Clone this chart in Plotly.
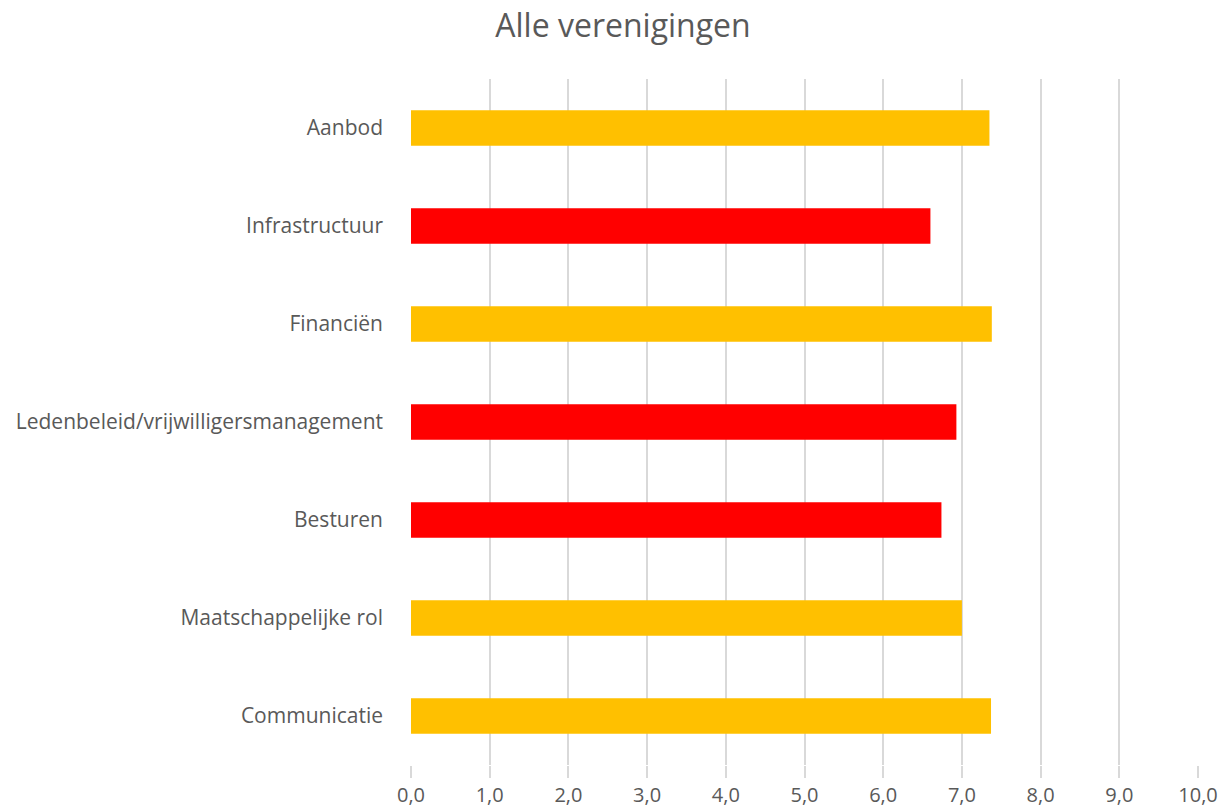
import plotly.graph_objects as go

categories = [
    "Aanbod",
    "Infrastructuur",
    "Financiën",
    "Ledenbeleid/vrijwilligersmanagement",
    "Besturen",
    "Maatschappelijke rol",
    "Communicatie",
]
scores = [7.35, 6.60, 7.38, 6.93, 6.74, 7.00, 7.37]
bar_colors = ["#FFC000", "#FF0000", "#FFC000", "#FF0000", "#FF0000", "#FFC000", "#FFC000"]
tick_values = [0, 1, 2, 3, 4, 5, 6, 7, 8, 9, 10]
tick_labels = ["0,0", "1,0", "2,0", "3,0", "4,0", "5,0", "6,0", "7,0", "8,0", "9,0", "10,0"]

fig = go.Figure()
fig.add_trace(go.Bar(
    x=scores,
    y=categories,
    orientation="h",
    marker={"color": bar_colors, "line": {"width": 0}},
    hovertemplate="%{y}: %{x:.2f}<extra></extra>",
))

fig.update_layout(
    width=1225,
    height=808,
    title={
        "text": "Alle verenigingen",
        "x": 623 / 1225,
        "xanchor": "center",
        "y": 1 - 26 / 808,
        "yanchor": "middle",
        "font": {"size": 32, "color": "#595959", "family": "Open Sans"},
    },
    font={"family": "Open Sans", "size": 21, "color": "#595959"},
    plot_bgcolor="white",
    paper_bgcolor="white",
    showlegend=False,
    bargap=0.64,
    margin={"t": 79, "b": 43, "l": 411, "r": 27, "autoexpand": False},
    xaxis={
        "range": [0, 10],
        "tickvals": tick_values,
        "ticktext": tick_labels,
        "showgrid": True,
        "gridcolor": "#D9D9D9",
        "gridwidth": 2,
        "zeroline": False,
        "showline": False,
        "ticks": "outside",
        "ticklen": 12,
        "tickwidth": 2,
        "tickcolor": "#D9D9D9",
        "ticklabelstandoff": 0,
        "tickfont": {"size": 20, "color": "#595959"},
    },
    yaxis={
        "autorange": "reversed",
        "showgrid": False,
        "showline": False,
        "ticks": "",
        "ticklabelstandoff": 27,
        "tickfont": {"size": 21, "color": "#595959"},
    },
)

# drop the default 8px body margin so the figure fills the window exactly
fig.write_html(
    "out.html",
    config={"displayModeBar": False},
    post_script="document.body.style.margin = '0px';",
)
